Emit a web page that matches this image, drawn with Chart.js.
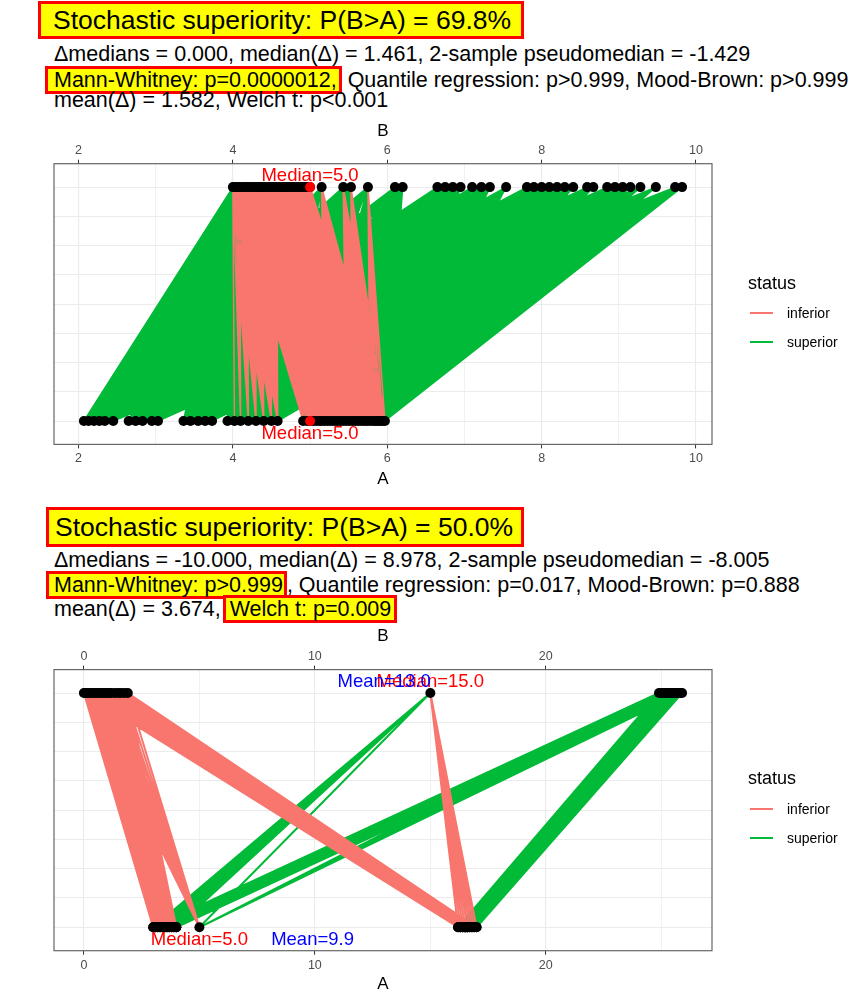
<!DOCTYPE html>
<html>
<head>
<meta charset="utf-8">
<script src="https://cdn.jsdelivr.net/npm/chart.js@4.4.1/dist/chart.umd.min.js"></script>
<style>
  body { margin: 0; background: #fff; font-family: "Liberation Sans", Arial, sans-serif; }
  #page { position: relative; width: 865px; height: 1005px; overflow: hidden; }
  .txt { position: absolute; white-space: nowrap; font-size: 21.5px; line-height: 22px; color: #000; }
  .title { position: absolute; white-space: nowrap; font-size: 26.5px; line-height: 32px; color: #000;
           background: #ffff00; border: 3px solid #ff0000; }
  .hl { display: inline-block; background: #ffff00; border: 3px solid #ff0000; }
  canvas { position: absolute; left: 0; }
  .leg-title { position: absolute; left: 748px; font-size: 18px; line-height: 20px; }
  .leg-key { position: absolute; left: 750px; width: 23px; height: 2px; }
  .leg-lab { position: absolute; left: 787px; font-size: 14px; line-height: 16px; }
</style>
</head>
<body>
<div id="page">
  <!-- panel 1 header -->
  <div class="title" style="left:38px; top:1px; padding:0 10px 0 12px;">Stochastic superiority: P(B&gt;A) = 69.8%</div>
  <div class="txt" style="left:54px; top:43px;">Δmedians = 0.000, median(Δ) = 1.461, 2-sample pseudomedian = -1.429</div>
  <div class="txt" style="left:54px; top:66px;"><span class="hl" style="margin-left:-9px; padding:0 2px 0 6px;">Mann-Whitney: p=0.0000012,</span> Quantile regression: p&gt;0.999, Mood-Brown: p&gt;0.999</div>
  <div class="txt" style="left:54px; top:89px;">mean(Δ) = 1.582, Welch t: p&lt;0.001</div>

  <canvas id="chart1" width="865" height="370" style="top:120px;"></canvas>
  <div class="leg-title" style="top:273px;">status</div>
  <div class="leg-key" style="top:312px; background:#F8766D;"></div>
  <div class="leg-lab" style="top:305px;">inferior</div>
  <div class="leg-key" style="top:341px; background:#00BA38;"></div>
  <div class="leg-lab" style="top:334px;">superior</div>

  <!-- panel 2 header -->
  <div class="title" style="left:46px; top:507px; padding:1px 8px 1px 6px;">Stochastic superiority: P(B&gt;A) = 50.0%</div>
  <div class="txt" style="left:54px; top:549px;">Δmedians = -10.000, median(Δ) = 8.978, 2-sample pseudomedian = -8.005</div>
  <div class="txt" style="left:54px; top:571px;"><span class="hl" style="margin-left:-8px; padding:0 1px 0 5px;">Mann-Whitney: p&gt;0.999</span>, Quantile regression: p=0.017, Mood-Brown: p=0.888</div>
  <div class="txt" style="left:54px; top:595px;">mean(Δ) = 3.674, <span class="hl" style="margin-left:-4px; padding:0 3px 0 4px;">Welch t: p=0.009</span></div>

  <canvas id="chart2" width="865" height="370" style="top:625px;"></canvas>
  <div class="leg-title" style="top:768px;">status</div>
  <div class="leg-key" style="top:808px; background:#F8766D;"></div>
  <div class="leg-lab" style="top:801px;">inferior</div>
  <div class="leg-key" style="top:837px; background:#00BA38;"></div>
  <div class="leg-lab" style="top:830px;">superior</div>
</div>

<script>
// ---- panel 1 data ----
const groupA1 = [2.07, 2.13, 2.2, 2.27, 2.34, 2.45,
  2.65, 2.74, 2.83, 2.95, 3.03,
  3.36, 3.45, 3.55, 3.64, 3.73,
  3.93, 4.02, 4.1, 4.2, 4.3, 4.4, 4.5, 4.58,
  4.91, 4.96, 5.0,
  5.04, 5.08, 5.12, 5.15, 5.19, 5.23, 5.27, 5.31, 5.35, 5.39, 5.43, 5.47, 5.51,
  5.55, 5.59, 5.63, 5.67, 5.71, 5.74, 5.78, 5.82, 5.85, 5.88, 5.91, 5.94, 5.97];
const groupB1 = [4.0, 4.03, 4.06, 4.09, 4.13, 4.16, 4.19, 4.22, 4.25, 4.29, 4.32, 4.35,
  4.38, 4.41, 4.45, 4.48, 4.51, 4.54, 4.57, 4.61, 4.64, 4.67, 4.7, 4.73, 4.77, 4.8,
  4.83, 4.86, 4.9, 4.93, 4.97, 5.0,
  5.15, 5.43, 5.53, 5.75, 6.1, 6.2, 6.65, 6.75, 6.85, 6.95, 7.1, 7.22, 7.33, 7.54,
  7.81, 7.9, 8.0, 8.1, 8.2, 8.3, 8.41, 8.59, 8.67, 8.85, 8.95, 9.05, 9.15, 9.28,
  9.48, 9.73, 9.82];
const majorTicks1 = [2, 4, 6, 8, 10];
const minorTicks1 = [3, 5, 7, 9];
const medianA1 = 5.0, medianB1 = 5.0;

// ---- panel 2 data ----
const groupA2 = [3.0, 3.0, 3.1, 3.1, 3.2, 3.2, 3.3, 3.3, 3.4, 3.4, 3.5, 3.5, 3.5,
  3.6, 3.6, 3.7, 3.7, 3.8, 3.8, 3.9, 3.9, 4.0, 4.0, 4.0,
  5.0,
  16.2, 16.2, 16.3, 16.3, 16.3, 16.4, 16.4, 16.4, 16.5, 16.5, 16.5, 16.5,
  16.6, 16.6, 16.6, 16.6, 16.7, 16.7, 16.8, 16.8, 16.9, 16.9, 17.0, 17.0];
const groupB2 = [0.0, 0.05, 0.1, 0.15, 0.2, 0.3, 0.4, 0.5, 0.6, 0.7, 0.8, 0.9, 1.0,
  1.1, 1.2, 1.35, 1.5, 1.6, 1.75, 1.9,
  15.0,
  24.9, 25.0, 25.1, 25.15, 25.2, 25.25, 25.3, 25.3, 25.35, 25.4, 25.45, 25.5, 25.55,
  25.6, 25.65, 25.7, 25.75, 25.8, 25.85, 25.9];
const majorTicks2 = [0, 10, 20];
const minorTicks2 = [5, 15, 25];
const medianA2 = 5.0, meanA2 = 9.9, medianB2 = 15.0, meanB2 = 13.0;

const gridY = [0, 0.125, 0.25, 0.375, 0.5, 0.625, 0.75, 0.875, 1];

const RED = '#F8766D', GREEN = '#00BA38';
const FONT = '"Liberation Sans", Arial, sans-serif';

// every A-B pair becomes one segment, null point breaks the line
function pairSegments(a, b, keep) {
  const pts = [];
  a.forEach(av => b.forEach(bv => {
    if (keep(av, bv)) pts.push({x: av, y: 0}, {x: bv, y: 1}, {x: bv, y: null});
  }));
  return pts;
}

const framePlugin = {
  id: 'frame',
  afterDraw(chart) {
    const {ctx, chartArea: a} = chart;
    ctx.save();
    ctx.strokeStyle = '#666';
    ctx.lineWidth = 1.2;
    ctx.strokeRect(a.left, a.top, a.right - a.left, a.bottom - a.top);
    ctx.restore();
  }
};

const labelPlugin = {
  id: 'statLabels',
  afterDatasetsDraw(chart, args, opts) {
    const {ctx} = chart;
    const x = chart.scales.x, y = chart.scales.y;
    ctx.save();
    ctx.font = '18.5px ' + FONT;
    ctx.textAlign = 'center';
    ctx.textBaseline = 'middle';
    opts.items.forEach(it => {
      ctx.fillStyle = it.color;
      ctx.fillText(it.text, x.getPixelForValue(it.x), y.getPixelForValue(it.y) + it.dy);
    });
    ctx.restore();
  }
};

function makeChart(id, A, B, major, minor, topH, bottomH, lineW, medianDots, labels) {
  const all = A.concat(B);
  const lo = Math.min(...all), hi = Math.max(...all);
  const pad = (hi - lo) * 0.05;
  const ticks = major.concat(minor).sort((p, q) => p - q);
  const isMajor = c => c.tick && major.includes(c.tick.value);

  const datasets = [
    {type: 'scatter', data: medianDots, backgroundColor: '#ff0000', pointRadius: 5, borderWidth: 0, order: 0},
    {type: 'scatter', data: A.map(v => ({x: v, y: 0})).concat(B.map(v => ({x: v, y: 1}))),
     backgroundColor: '#000', pointRadius: 5, borderWidth: 0, order: 1},
    {type: 'line', label: 'inferior', data: pairSegments(A, B, (a, b) => b < a),
     borderColor: RED, borderWidth: lineW, pointRadius: 0, order: 2},
    {type: 'line', label: 'superior', data: pairSegments(A, B, (a, b) => b > a),
     borderColor: GREEN, borderWidth: lineW, pointRadius: 0, order: 3}
  ];

  const tickFont = {size: 12.5, family: FONT};
  return new Chart(document.getElementById(id), {
    type: 'scatter',
    data: {datasets},
    plugins: [framePlugin, labelPlugin],
    options: {
      responsive: false,
      animation: false,
      events: [],
      layout: {padding: {left: 54, right: 153, top: 0, bottom: 0}},
      plugins: {legend: {display: false}, tooltip: {enabled: false}, statLabels: {items: labels}},
      scales: {
        x: {
          type: 'linear', position: 'bottom', min: lo - pad, max: hi + pad,
          afterBuildTicks: s => { s.ticks = ticks.map(v => ({value: v})); },
          afterFit: s => { s.height = bottomH; },
          ticks: {callback: v => major.includes(v) ? String(v) : '', color: '#4d4d4d',
                  font: tickFont, padding: 3, maxRotation: 0, autoSkip: false},
          grid: {color: '#ebebeb', lineWidth: c => isMajor(c) ? 1.1 : 0.7,
                 tickColor: c => isMajor(c) ? '#333' : 'rgba(0,0,0,0)', tickLength: 4, tickWidth: 1},
          border: {display: false},
          title: {display: true, text: 'A', color: '#000', font: {size: 17, family: FONT}, padding: 0}
        },
        x2: {
          type: 'linear', position: 'top', min: lo - pad, max: hi + pad,
          afterBuildTicks: s => { s.ticks = ticks.map(v => ({value: v})); },
          afterFit: s => { s.height = topH; },
          ticks: {callback: v => major.includes(v) ? String(v) : '', color: '#4d4d4d',
                  font: tickFont, padding: 2, maxRotation: 0, autoSkip: false},
          grid: {drawOnChartArea: false,
                 tickColor: c => isMajor(c) ? '#333' : 'rgba(0,0,0,0)', tickLength: 4, tickWidth: 1},
          border: {display: false},
          title: {display: true, text: 'B', color: '#000', font: {size: 17, family: FONT}, padding: {top: 1, bottom: 0}}
        },
        y: {
          type: 'linear', min: -0.1, max: 1.1,
          afterBuildTicks: s => { s.ticks = gridY.map(v => ({value: v})); },
          afterFit: s => { s.width = 0; },
          ticks: {display: false},
          grid: {color: '#ebebeb', lineWidth: 1, drawTicks: false},
          border: {display: false}
        }
      }
    }
  });
}

makeChart('chart1', groupA1, groupB1, majorTicks1, minorTicks1, 43.7, 45.6, 1.5,
  [{x: medianB1, y: 1}, {x: medianA1, y: 0}],
  [{text: 'Median=' + medianB1.toFixed(1), x: medianB1, y: 1, dy: -11, color: '#ff0000'},
   {text: 'Median=' + medianA1.toFixed(1), x: medianA1, y: 0, dy: 13, color: '#ff0000'}]);

makeChart('chart2', groupA2, groupB2, majorTicks2, minorTicks2, 44.6, 44.3, 2,
  [],
  [{text: 'Median=' + medianB2.toFixed(1), x: medianB2, y: 1, dy: -11, color: '#ff0000'},
   {text: 'Mean=' + meanB2.toFixed(1), x: meanB2, y: 1, dy: -11, color: '#0000ff'},
   {text: 'Median=' + medianA2.toFixed(1), x: medianA2, y: 0, dy: 13, color: '#ff0000'},
   {text: 'Mean=' + meanA2.toFixed(1), x: meanA2, y: 0, dy: 13, color: '#0000ff'}]);
</script>
</body>
</html>
